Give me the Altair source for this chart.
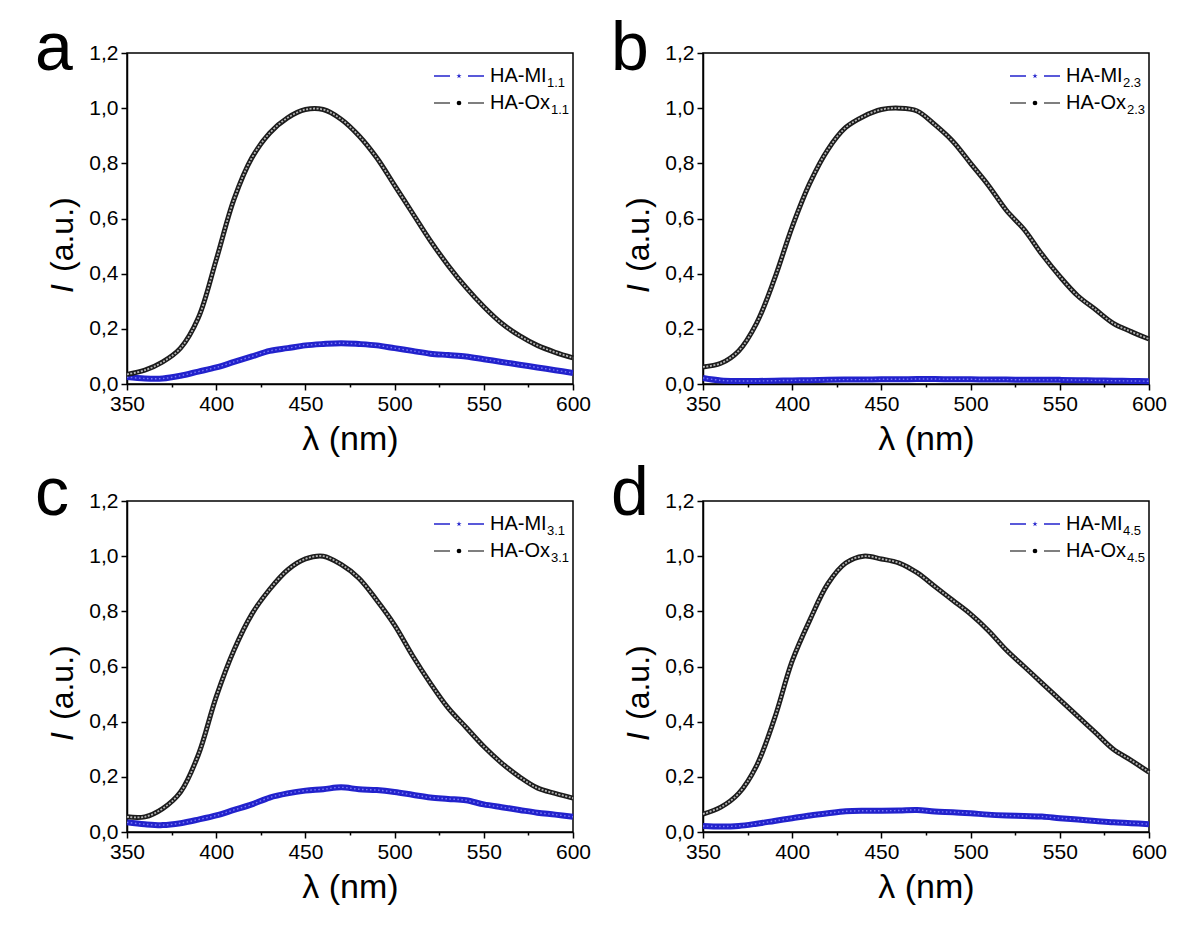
import altair as alt
import pandas as pd

FONT = "Liberation Sans"

WAVELENGTH = [350, 360, 370, 380, 390, 400, 410, 420, 430, 440, 450, 460, 470,
              480, 490, 500, 510, 520, 530, 540, 550, 560, 570, 580, 590, 600]

OX_11 = [0.035, 0.05, 0.08, 0.13, 0.24, 0.45, 0.67, 0.82, 0.91, 0.965, 0.995, 0.995, 0.96,
         0.90, 0.82, 0.72, 0.62, 0.52, 0.43, 0.35, 0.28, 0.22, 0.175, 0.14, 0.115, 0.095]
MI_11 = [0.025, 0.02, 0.02, 0.03, 0.045, 0.06, 0.08, 0.10, 0.12, 0.13, 0.14, 0.145, 0.148,
         0.145, 0.14, 0.13, 0.12, 0.11, 0.105, 0.10, 0.09, 0.08, 0.07, 0.06, 0.05, 0.04]

OX_23 = [0.062, 0.075, 0.12, 0.22, 0.38, 0.57, 0.73, 0.85, 0.93, 0.97, 0.995, 1.0, 0.99,
         0.94, 0.88, 0.80, 0.72, 0.63, 0.56, 0.47, 0.39, 0.32, 0.27, 0.22, 0.19, 0.163]
MI_23 = [0.022, 0.013, 0.011, 0.011, 0.012, 0.013, 0.014, 0.015, 0.016, 0.016, 0.017, 0.017, 0.018,
         0.018, 0.017, 0.017, 0.016, 0.016, 0.015, 0.015, 0.015, 0.014, 0.013, 0.012, 0.011, 0.010]

OX_31 = [0.055, 0.055, 0.085, 0.145, 0.28, 0.49, 0.66, 0.79, 0.88, 0.95, 0.99, 1.0, 0.97,
         0.92, 0.84, 0.75, 0.64, 0.54, 0.45, 0.38, 0.31, 0.25, 0.20, 0.16, 0.14, 0.123]
MI_31 = [0.035, 0.028, 0.025, 0.032, 0.045, 0.06, 0.08, 0.10, 0.125, 0.14, 0.15, 0.155, 0.162,
         0.155, 0.152, 0.145, 0.135, 0.125, 0.12, 0.115, 0.10, 0.09, 0.08, 0.07, 0.063, 0.055]

OX_45 = [0.065, 0.09, 0.14, 0.24, 0.41, 0.62, 0.77, 0.90, 0.975, 1.0, 0.99, 0.975, 0.94,
         0.89, 0.84, 0.79, 0.73, 0.66, 0.60, 0.54, 0.48, 0.42, 0.36, 0.30, 0.26, 0.217]
MI_45 = [0.022, 0.02, 0.022, 0.03, 0.04, 0.05, 0.06, 0.068, 0.075, 0.077, 0.077, 0.078, 0.08,
         0.074, 0.072, 0.068, 0.063, 0.06, 0.058, 0.056, 0.05, 0.045, 0.04, 0.035, 0.032, 0.028]

X_TICKS = [350, 375, 400, 425, 450, 475, 500, 525, 550, 575, 600]
Y_TICKS = [0.0, 0.1, 0.2, 0.3, 0.4, 0.5, 0.6, 0.7, 0.8, 0.9, 1.0, 1.1, 1.2]

PANELS = [
    ("a", "1.1", OX_11, MI_11),
    ("b", "2.3", OX_23, MI_23),
    ("c", "3.1", OX_31, MI_31),
    ("d", "4.5", OX_45, MI_45),
]

W, H = 446, 331
BLUE = "#2222cc"
STAR = ("M0,-1L0.224,-0.309L0.951,-0.309L0.363,0.118L0.588,0.809L0,0.382"
        "L-0.588,0.809L-0.363,0.118L-0.951,-0.309L-0.224,-0.309Z")
INTERP = "catmull-rom"

x_axis = alt.Axis(
    values=X_TICKS,
    labelExpr="datum.value % 50 == 0 ? datum.label : ''",
    tickSize={"condition": {"test": "datum.value % 50 != 0", "value": 3}, "value": 6},
    labelFontSize=21, labelFont=FONT, labelColor="black", labelPadding=3,
    labelOverlap=False, labelFlush=False,
    domainColor="black", domainWidth=1.5, tickColor="black", tickWidth=1.5,
    grid=False, title="λ (nm)", titleFont=FONT, titleFontSize=34,
    titleFontWeight="normal", titleColor="black", titlePadding=8,
)
y_axis = alt.Axis(
    values=Y_TICKS,
    labelExpr="round(datum.value*10) % 2 == 0 ? replace(format(datum.value, '.1f'), '.', ',') : ''",
    tickSize={"condition": {"test": "round(datum.value*10) % 2 != 0", "value": 3}, "value": 6},
    labelFontSize=21, labelFont=FONT, labelColor="black", labelPadding=3,
    labelOverlap=False, labelFlush=False,
    domainColor="black", domainWidth=1.5, tickColor="black", tickWidth=1.5,
    grid=False, title=None,
)

ONE = alt.Data(values=[{}])


def text(t, x, y, size, **kw):
    return alt.Chart(ONE).mark_text(
        text=t, font=FONT, fontSize=size, color="black", align="left",
        baseline="alphabetic", **kw
    ).encode(x=alt.value(x), y=alt.value(y))


def seg(x1, x2, y, color):
    return alt.Chart(ONE).mark_rule(color=color, strokeWidth=1.5).encode(
        x=alt.value(x1), x2=alt.value(x2), y=alt.value(y))


def panel(letter, sub, ox, mi, letter_y):
    df = pd.DataFrame({"wl": WAVELENGTH, "ox": ox, "mi": mi})
    xs = alt.Scale(domain=[350, 600], nice=False, zero=False)
    ys = alt.Scale(domain=[0, 1.2], nice=False)
    x = alt.X("wl:Q", scale=xs, axis=x_axis)
    base = alt.Chart(df)
    mi_band = base.mark_line(color=BLUE, strokeWidth=6, interpolate=INTERP).encode(
        x=x, y=alt.Y("mi:Q", scale=ys, axis=y_axis))
    mi_in = base.mark_line(color="#7a7af5", strokeWidth=1.4, interpolate=INTERP,
                           strokeDash=[1.5, 2.5]).encode(x=x, y=alt.Y("mi:Q", scale=ys))
    ox_band = base.mark_line(color="#1c1c1c", strokeWidth=5, interpolate=INTERP).encode(
        x=x, y=alt.Y("ox:Q", scale=ys))
    ox_in = base.mark_line(color="#b4b4b4", strokeWidth=1.8, interpolate=INTERP,
                           strokeDash=[2, 1.5]).encode(x=x, y=alt.Y("ox:Q", scale=ys))

    r1, r2 = 29, 56
    legend = [
        seg(307, 323, r1 - 6, BLUE), seg(341, 357, r1 - 6, BLUE),
        alt.Chart(ONE).mark_point(shape=STAR, filled=True, size=30, color=BLUE, opacity=1)
        .encode(x=alt.value(332), y=alt.value(r1 - 6)),
        text("HA-MI", 363, r1, 20), text(sub, 420, r1 + 5, 13),
        seg(307, 323, r2 - 6, "#555555"), seg(341, 357, r2 - 6, "#555555"),
        alt.Chart(ONE).mark_point(shape="circle", filled=True, size=22, color="black", opacity=1)
        .encode(x=alt.value(332), y=alt.value(r2 - 6)),
        text("HA-Ox", 363, r2, 20), text(sub, 424, r2 + 5, 13),
    ]
    ytitle = [
        text("I", -54, 240, 32, angle=270, fontStyle="italic"),
        text("(a.u.)", -54, 219, 32, angle=270),
    ]
    let = text(letter, -92, letter_y, 68)
    return alt.layer(mi_band, mi_in, ox_band, ox_in, *legend, *ytitle, let).properties(
        width=W, height=H)


charts = [panel(l, s, o, m, 17 if i < 2 else 14) for i, (l, s, o, m) in enumerate(PANELS)]

chart = alt.concat(*charts, columns=2, spacing={"row": 117, "column": 130},
                   bounds="flush").properties(
    padding={"left": 26, "top": 7, "right": 5, "bottom": 5},
    background="white",
).configure_view(stroke="black", strokeWidth=1.5)

chart.save("out.html", embed_options={"renderer": "svg", "actions": False})
